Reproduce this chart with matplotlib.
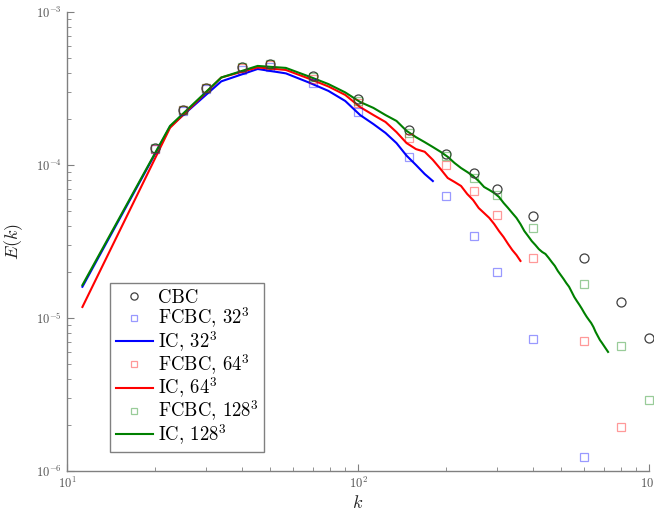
import matplotlib
matplotlib.use("Agg")
import matplotlib.pyplot as plt
import numpy as np

plt.rcParams["font.family"] = "serif"
plt.rcParams["font.serif"] = ["cmr10", "DejaVu Serif"]
plt.rcParams["mathtext.fontset"] = "cm"
plt.rcParams["axes.formatter.use_mathtext"] = True

# CBC / FCBC sample wavenumbers
k_pts = [20, 25, 30, 40, 50, 70, 100, 150, 200, 250, 300, 400, 600, 800, 1000]

E_cbc = [1.29e-4, 2.29e-4, 3.19e-4, 4.37e-4, 4.57e-4, 3.82e-4, 2.70e-4, 1.69e-4,
         1.18e-4, 8.87e-5, 6.97e-5, 4.64e-5, 2.47e-5, 1.27e-5, 7.4e-6]

E_fcbc32 = [1.27e-4, 2.25e-4, 3.12e-4, 4.20e-4, 4.40e-4, 3.44e-4, 2.22e-4, 1.13e-4,
            6.27e-5, 3.44e-5, 2.0e-5, 7.3e-6, 1.24e-6]
E_fcbc64 = [1.28e-4, 2.28e-4, 3.17e-4, 4.30e-4, 4.50e-4, 3.65e-4, 2.54e-4, 1.50e-4,
            1.0e-4, 6.76e-5, 4.71e-5, 2.47e-5, 7.08e-6, 1.94e-6]
E_fcbc128 = [1.29e-4, 2.29e-4, 3.19e-4, 4.35e-4, 4.55e-4, 3.75e-4, 2.62e-4, 1.62e-4,
             1.15e-4, 8.22e-5, 6.37e-5, 3.87e-5, 1.67e-5, 6.56e-6, 2.91e-6]

# IC spectra, one value per shell k = n * k0
k0 = 11.3
E_ic32 = [1.60e-5, 1.78e-4, 3.52e-4, 4.24e-4, 3.97e-4, 3.46e-4, 3.05e-4, 2.62e-4,
          2.12e-4, 1.85e-4, 1.62e-4, 1.39e-4, 1.15e-4, 1.0e-4, 8.73e-5, 7.85e-5]
E_ic64 = [1.18e-5, 1.75e-4, 3.73e-4, 4.34e-4, 4.18e-4, 3.67e-4, 3.26e-4, 2.87e-4,
          2.39e-4, 2.12e-4, 1.91e-4, 1.64e-4, 1.39e-4, 1.27e-4, 1.22e-4, 1.08e-4,
          9.42e-5, 8.22e-5, 7.74e-5, 7.29e-5, 6.46e-5, 5.90e-5, 5.23e-5, 4.85e-5,
          4.51e-5, 4.11e-5, 3.70e-5, 3.38e-5, 3.05e-5, 2.78e-5, 2.58e-5, 2.36e-5]
E_ic128 = [1.64e-5, 1.80e-4, 3.73e-4, 4.44e-4, 4.31e-4, 3.79e-4, 3.38e-4, 2.98e-4,
           2.58e-4, 2.36e-4, 2.12e-4, 1.94e-4, 1.67e-4, 1.52e-4, 1.41e-4, 1.31e-4,
           1.22e-4, 1.13e-4, 1.03e-4, 9.55e-5, 9.0e-5, 8.47e-5, 7.85e-5, 7.18e-5,
           6.87e-5, 6.56e-5, 6.18e-5, 5.65e-5, 5.24e-5, 4.85e-5, 4.51e-5, 4.11e-5,
           3.70e-5, 3.43e-5, 3.18e-5, 3.0e-5, 2.82e-5, 2.70e-5, 2.62e-5, 2.47e-5,
           2.32e-5, 2.19e-5, 2.03e-5, 1.91e-5, 1.80e-5, 1.69e-5, 1.60e-5, 1.48e-5,
           1.37e-5, 1.29e-5, 1.22e-5, 1.15e-5, 1.08e-5, 1.02e-5, 9.71e-6, 9.27e-6,
           8.73e-6, 8.1e-6, 7.62e-6, 7.18e-6, 6.87e-6, 6.56e-6, 6.27e-6, 6.0e-6]

series = [
    ("32", E_fcbc32, E_ic32, (0, 0, 1)),
    ("64", E_fcbc64, E_ic64, (1, 0, 0)),
    ("128", E_fcbc128, E_ic128, (0, 0.5, 0)),
]

fig = plt.figure(figsize=(6.54, 5.14), dpi=100)
ax = fig.add_axes([0.1024, 0.0837, 0.8900, 0.8930])

ax.plot(k_pts, E_cbc, ls="none", marker="o", ms=6.5, mfc="none", mec="#404040",
        mew=0.9, label="CBC", clip_on=False, zorder=3)
for res, e_f, e_ic, col in series:
    ax.plot(k_pts[:len(e_f)], e_f, ls="none", marker="s", ms=5.5, mfc="none",
            mec=col + (0.4,), mew=0.9, label=rf"FCBC, ${res}^3$", clip_on=False,
            zorder=3)
    k_ic = k0 * np.arange(1, len(e_ic) + 1)
    ax.plot(k_ic, e_ic, color=col, lw=1.5, label=rf"IC, ${res}^3$", zorder=2)

ax.set_xscale("log")
ax.set_yscale("log")
ax.set_xlim(10, 1000)
ax.set_ylim(1e-6, 1e-3)

for side in ("top", "right"):
    ax.spines[side].set_visible(False)
for side in ("left", "bottom"):
    ax.spines[side].set_color("#808080")
    ax.spines[side].set_linewidth(1.0)
ax.tick_params(which="both", direction="in", colors="#808080", labelcolor="#555555",
               labelsize=9)
ax.tick_params(which="major", length=5)
ax.tick_params(which="minor", length=3)

ax.set_xlabel("$k$", fontsize=13, color="#222222", labelpad=2)
ax.set_ylabel("$E(k)$", fontsize=13, color="#222222", labelpad=8)

leg = ax.legend(loc="lower left", bbox_to_anchor=(0.074, 0.041), fontsize=13.5,
                fancybox=False, edgecolor="#808080", framealpha=1,
                handlelength=2.0, handletextpad=0.25, labelspacing=-0.08,
                borderpad=0.3, borderaxespad=0, markerscale=0.8)
leg.get_frame().set_linewidth(1.0)

fig.savefig("out.png", dpi=100)
